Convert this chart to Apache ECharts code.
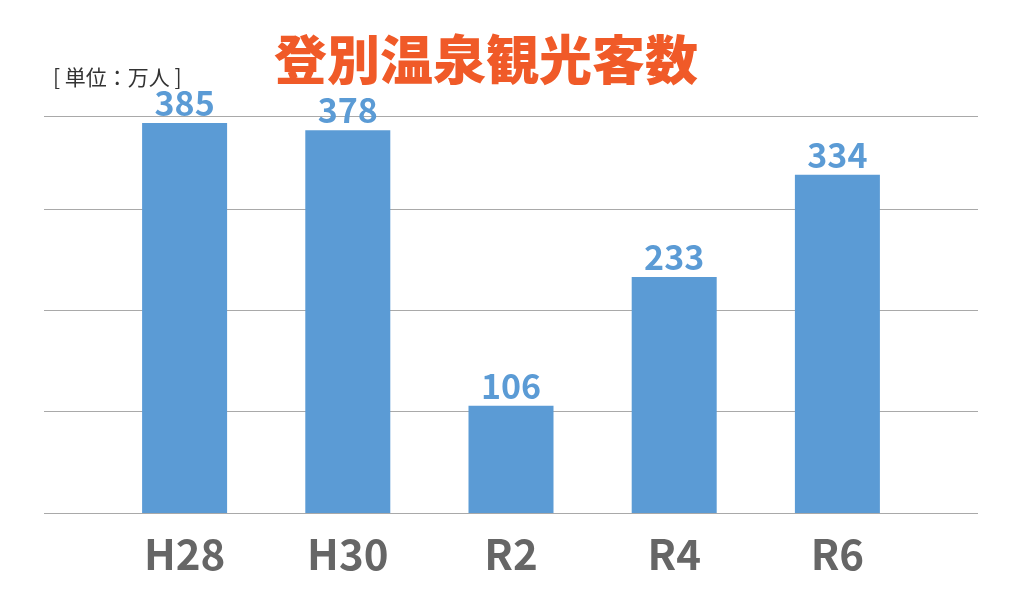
<!DOCTYPE html>
<html>
<head>
<meta charset="utf-8">
<script src="https://cdn.jsdelivr.net/npm/echarts@6/dist/echarts.min.js"></script>
<style>
  html, body { margin: 0; padding: 0; background: #fff; }
  #chart { width: 1012px; height: 596px; }
</style>
</head>
<body>
<div id="chart"></div>
<script>
// 年度と観光客数（万人）
const categories = ['H28', 'H30', 'R2', 'R4', 'R6']
const visitors = [385, 378, 106, 233, 334]

const FONT = '"Noto Sans CJK JP", "Noto Sans", sans-serif'
const BAR_COLOR = '#5b9bd5'

const chart = echarts.init(document.getElementById('chart'))
chart.setOption({
  backgroundColor: '#fff',
  animation: false,
  title: [
    {
      text: '登別温泉観光客数',
      left: 481,
      top: 28,
      textAlign: 'center',
      textStyle: {
        fontFamily: FONT,
        fontSize: 53,
        fontWeight: 900,
        color: '#f05a28'
      }
    },
    {
      text: '[ 単位：万人 ]',
      left: 48,
      top: 62,
      textStyle: {
        fontFamily: FONT,
        fontSize: 21,
        fontWeight: 'normal',
        color: '#333'
      }
    }
  ],
  grid: [
    // 棒グラフ用
    { left: 103, right: 93, top: 116, bottom: 83 },
    // 横罫線用（少し広め）
    { left: 44, right: 34, top: 116, bottom: 83 }
  ],
  xAxis: [
    {
      gridIndex: 0,
      type: 'category',
      data: categories,
      axisLine: { show: false },
      axisTick: { show: false },
      axisLabel: {
        margin: 20,
        fontFamily: FONT,
        fontSize: 42,
        fontWeight: 'bold',
        color: '#666'
      }
    },
    {
      gridIndex: 1,
      type: 'category',
      data: categories,
      show: false
    }
  ],
  yAxis: [
    {
      gridIndex: 0,
      type: 'value',
      min: 0,
      max: 392,
      interval: 100,
      axisLine: { show: false },
      axisTick: { show: false },
      axisLabel: { show: false },
      splitLine: { show: false }
    },
    {
      gridIndex: 1,
      type: 'value',
      min: 0,
      max: 392,
      interval: 100,
      axisLine: { show: false },
      axisTick: { show: false },
      axisLabel: { show: false },
      splitLine: { show: true, lineStyle: { color: '#a9a9a9', width: 1 } }
    }
  ],
  series: [
    {
      name: '観光客数',
      type: 'bar',
      xAxisIndex: 0,
      yAxisIndex: 0,
      barWidth: 85,
      z: 3,
      itemStyle: { color: BAR_COLOR },
      label: {
        show: true,
        position: 'top',
        distance: 3,
        fontFamily: FONT,
        fontSize: 34,
        fontWeight: 'bold',
        color: BAR_COLOR
      },
      data: visitors
    }
  ]
})
</script>
</body>
</html>
